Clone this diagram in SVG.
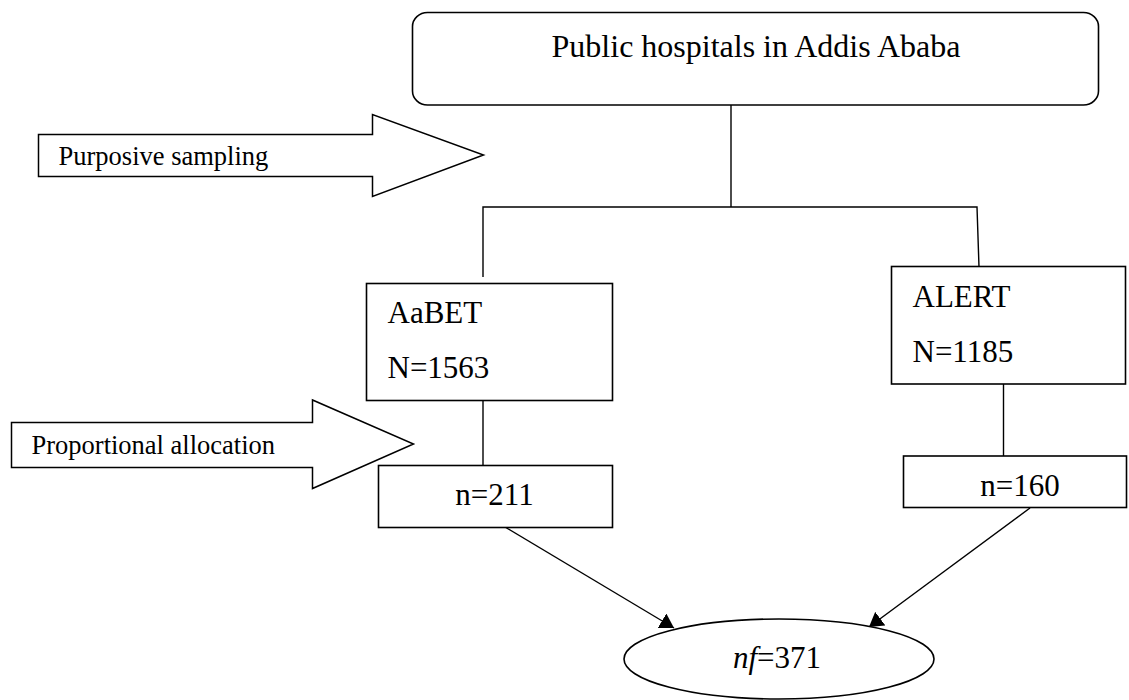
<svg xmlns="http://www.w3.org/2000/svg" width="1129" height="700" viewBox="0 0 1129 700">
<style>
.box{fill:#fff;stroke:#000;stroke-width:1.6}
.blk{fill:#fff;stroke:#000;stroke-width:1.5;stroke-linejoin:miter}
.ln{fill:none;stroke:#000;stroke-width:1.4}
.t{font-family:"Liberation Serif","Times New Roman",serif;font-size:31px;fill:#000}
.s{font-family:"Liberation Serif","Times New Roman",serif;font-size:26.5px;fill:#000}
</style>
<defs>
<marker id="ah" viewBox="0 0 10 10" refX="10" refY="5" markerWidth="14" markerHeight="17" markerUnits="userSpaceOnUse" orient="auto" preserveAspectRatio="none">
<path d="M0,0 L10,5 L0,10 Z" fill="#000"/>
</marker>
</defs>
<rect width="1129" height="700" fill="#fff"/>
<g id="connectors">
<line class="ln" x1="731" y1="105" x2="731" y2="207"/>
<polyline class="ln" points="483,277 483,207 977,207 979,267"/>
<line class="ln" x1="483" y1="401" x2="483" y2="466"/>
<line class="ln" x1="1003.5" y1="384" x2="1003.5" y2="456"/>
<line class="ln" x1="505" y1="527" x2="674" y2="628" marker-end="url(#ah)"/>
<line class="ln" x1="1030" y1="508" x2="869" y2="627" marker-end="url(#ah)"/>
</g>
<g id="top">
<rect class="box" x="412.5" y="12.5" width="686" height="92.5" rx="15" ry="14"/>
<text class="t" x="756" y="57" text-anchor="middle" style="font-size:32px">Public hospitals in Addis Ababa</text>
</g>
<g id="purposive">
<polygon class="blk" points="38.5,134.5 372.5,134.5 372.5,114.5 483.5,155 372.5,196.5 372.5,176.5 38.5,176.5"/>
<text class="s" x="58.5" y="164.5">Purposive sampling</text>
</g>
<g id="aabet">
<rect class="box" x="366.5" y="283.5" width="246" height="117"/>
<text class="t" x="387.5" y="322.5">AaBET</text>
<text class="t" x="387.5" y="377.5">N=1563</text>
</g>
<g id="alert">
<rect class="box" x="891.5" y="266.5" width="234" height="117.5"/>
<text class="t" x="912.5" y="306.5">ALERT</text>
<text class="t" x="912.5" y="361.5">N=1185</text>
</g>
<g id="proportional">
<polygon class="blk" points="11.5,422.5 312.5,422.5 312.5,400 413.5,444 312.5,488.5 312.5,467.5 11.5,467.5"/>
<text class="s" x="31.5" y="453.5">Proportional allocation</text>
</g>
<g id="n211">
<rect class="box" x="378.5" y="465.5" width="234" height="62"/>
<text class="t" x="494.5" y="505" text-anchor="middle">n=211</text>
</g>
<g id="n160">
<rect class="box" x="903.5" y="456" width="223" height="51.5"/>
<text class="t" x="1020" y="496" text-anchor="middle">n=160</text>
</g>
<g id="nf">
<ellipse class="box" cx="779" cy="659" rx="155" ry="40"/>
<text class="t" x="777" y="668" text-anchor="middle"><tspan font-style="italic">nf</tspan>=371</text>
</g>
</svg>
